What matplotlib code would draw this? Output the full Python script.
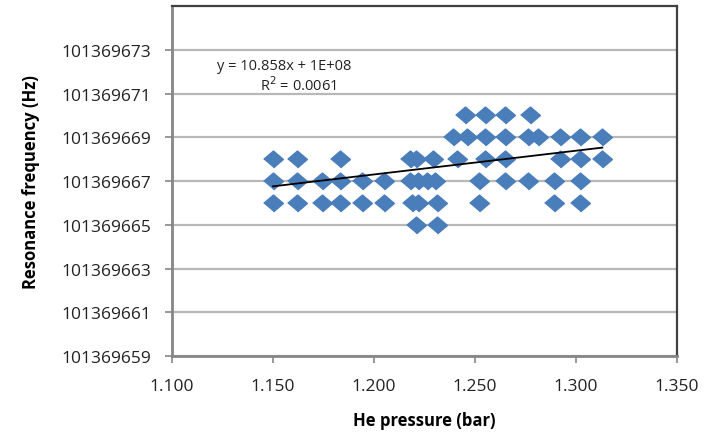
import numpy as np
import matplotlib
matplotlib.use('Agg')
import matplotlib.pyplot as plt
from matplotlib.ticker import FuncFormatter, MultipleLocator

# Pontos, agrupados por frequência (Hz)
x_670 = [1.245, 1.255, 1.265, 1.277]
x_669 = [1.239, 1.246, 1.255, 1.265, 1.276, 1.281, 1.292, 1.302, 1.313]
x_668 = [1.150, 1.162, 1.183, 1.218, 1.221, 1.229, 1.241, 1.255, 1.265, 1.292, 1.302, 1.313]
x_667 = [1.150, 1.162, 1.174, 1.183, 1.194, 1.205, 1.218, 1.222, 1.226, 1.230,
         1.252, 1.265, 1.276, 1.289, 1.302]
x_666 = [1.150, 1.162, 1.174, 1.183, 1.194, 1.205, 1.219, 1.222, 1.231, 1.252, 1.289, 1.302]
x_665 = [1.221, 1.231]

freq_levels = [101369670, 101369669, 101369668, 101369667, 101369666, 101369665]

# Linha de tendência
slope = 10.858
intercept = 101369654.27
eq_text = 'y = 10.858x + 1E+08'
r2_text = 'R$^2$ = 0.0061'

pressao = np.concatenate([x_670, x_669, x_668, x_667, x_666, x_665])
freq = np.concatenate([np.full(len(g), f, dtype=float) for g, f in
                       zip([x_670, x_669, x_668, x_667, x_666, x_665], freq_levels)])

plt.rcParams['font.family'] = ['Open Sans', 'DejaVu Sans']

fig = plt.figure(figsize=(7.12, 4.35), dpi=100)
ax = fig.add_axes([0.2416, 0.1793, 0.7093, 0.8046])

diamante = [(-1, 0), (0, 0.85), (1, 0), (0, -0.85)]
ax.plot(pressao, freq, linestyle='none', marker=diamante, markersize=14,
        color='#4A7EBB', markeredgecolor='#4A7EBB', markeredgewidth=1.2,
        zorder=3)

xs = np.array([pressao.min(), pressao.max()])
ax.plot(xs, slope * xs + intercept, color='black', linewidth=1.3, zorder=4)

ax.set_xlim(1.1, 1.35)
ax.set_ylim(101369659, 101369675)
ax.xaxis.set_major_locator(MultipleLocator(0.05))
ax.set_yticks(np.arange(101369659, 101369674, 2))
ax.xaxis.set_major_formatter(FuncFormatter(lambda v, p: f'{v:.3f}'))
ax.yaxis.set_major_formatter(FuncFormatter(lambda v, p: f'{v:.0f}'))

ax.grid(axis='y', color='#B8B8B8', linewidth=1.6, zorder=0)
ax.set_axisbelow(True)

for lado in ['left', 'bottom']:
    ax.spines[lado].set_color('#868686')
    ax.spines[lado].set_linewidth(2)
for lado in ['top', 'right']:
    ax.spines[lado].set_color('#404040')
    ax.spines[lado].set_linewidth(1.6)

ax.tick_params(axis='both', direction='out', length=5, width=1.2, color='#868686',
               labelsize=12.5, labelcolor='#222222')
ax.tick_params(axis='y', pad=10)
ax.tick_params(axis='x', pad=11)

ax.set_xlabel('He pressure (bar)', fontsize=12, fontweight='bold', labelpad=12)
ax.set_ylabel('Resonance frequency (Hz)', fontsize=12, fontweight='bold', labelpad=15)

ax.text(0.222, 0.829, eq_text, transform=ax.transAxes, ha='center', va='center',
        fontsize=10.5, color='#222222')
ax.text(0.250, 0.774, r2_text, transform=ax.transAxes, ha='center', va='center',
        fontsize=10.5, color='#222222')

fig.savefig('out.png', dpi=100)
